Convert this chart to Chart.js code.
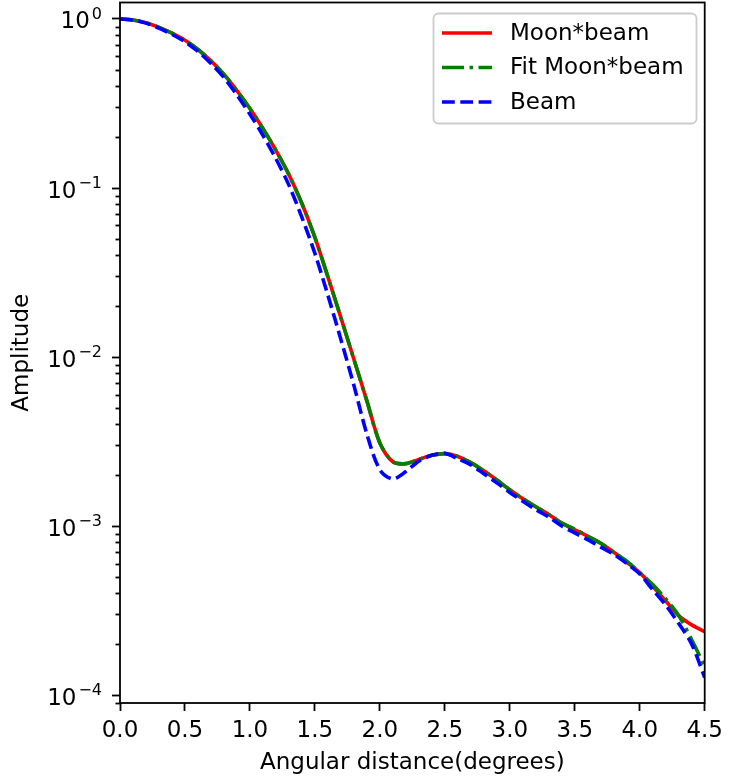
<!DOCTYPE html>
<html>
<head>
<meta charset="utf-8">
<script src="https://cdn.jsdelivr.net/npm/chart.js@4"></script>
<style>
  body { margin: 0; background: #fff; }
  canvas { display: block; }
</style>
</head>
<body>
<canvas id="beamChart" width="729" height="781"></canvas>
<script>
// angular distance (degrees)
const angles = [0.0, 0.1, 0.2, 0.3, 0.4, 0.5, 0.6, 0.7, 0.8, 0.9,
                1.0, 1.1, 1.2, 1.3, 1.4, 1.5, 1.6, 1.7, 1.8, 1.9,
                2.0, 2.1, 2.2, 2.3, 2.4, 2.5, 2.6, 2.7, 2.8, 2.9,
                3.0, 3.1, 3.2, 3.3, 3.4, 3.5, 3.6, 3.7, 3.8, 3.9,
                4.0, 4.1, 4.2, 4.3, 4.4, 4.5];

const moonBeam = [1.0, 0.987, 0.95, 0.893, 0.824, 0.748, 0.66, 0.565, 0.47, 0.377,
                  0.295, 0.225, 0.167, 0.12, 0.081, 0.051, 0.0298, 0.0171, 0.0097, 0.0055,
                  0.0031, 0.0024, 0.00234, 0.00248, 0.00262, 0.00268, 0.00258, 0.00237, 0.00212, 0.00187,
                  0.00164, 0.00145, 0.0013, 0.00117, 0.00104, 0.00095, 0.00087, 0.00079, 0.0007, 0.00061,
                  0.00053, 0.00044, 0.00036, 0.000295, 0.00026, 0.000237];

const fitMoonBeam = [1.0, 0.987, 0.95, 0.893, 0.824, 0.748, 0.66, 0.565, 0.47, 0.377,
                     0.295, 0.225, 0.167, 0.12, 0.081, 0.051, 0.0298, 0.0171, 0.0097, 0.0055,
                     0.0031, 0.0024, 0.00234, 0.00248, 0.00262, 0.00268, 0.00258, 0.00237, 0.00212, 0.00187,
                     0.00164, 0.00145, 0.0013, 0.00117, 0.00104, 0.00096, 0.00087, 0.00079, 0.00070, 0.00062,
                     0.00053, 0.00045, 0.00037, 0.000295, 0.000212, 0.000148];

const beam = [1.0, 0.985, 0.945, 0.883, 0.81, 0.733, 0.643, 0.545, 0.45, 0.355,
              0.273, 0.205, 0.149, 0.104, 0.067, 0.041, 0.0232, 0.0127, 0.0068, 0.0035,
              0.00215, 0.0019, 0.0021, 0.00242, 0.00262, 0.00269, 0.0025, 0.0023, 0.00204, 0.0018,
              0.00158, 0.0014, 0.00125, 0.00113, 0.001, 0.00091, 0.00083, 0.00075, 0.00068, 0.0006,
              0.00052, 0.00042, 0.00034, 0.000265, 0.0002, 0.000127];

const xTicks = [0, 0.5, 1.0, 1.5, 2.0, 2.5, 3.0, 3.5, 4.0, 4.5];
const yExponents = [0, -1, -2, -3, -4];

const FONT = 'DejaVu Sans';

function pts(values) {
    return angles.map((a, i) => ({ x: a, y: values[i] }));
}

// tick labels like 10^-2 with a real superscript, minor log ticks and the frame
const axesPlugin = {
    id: 'axesExtras',
    afterDraw(chart) {
        const ctx = chart.ctx;
        const area = chart.chartArea;
        const y = chart.scales.y;
        ctx.save();
        ctx.strokeStyle = '#000';
        ctx.lineWidth = 1.8;
        // minor ticks
        for (let k = -5; k <= 0; k++) {
            for (let m = 2; m <= 9; m++) {
                const v = m * Math.pow(10, k);
                if (v < y.min || v > y.max) continue;
                const py = Math.round(y.getPixelForValue(v)) + 0.5;
                ctx.beginPath();
                ctx.moveTo(area.left, py);
                ctx.lineTo(area.left - 4.5, py);
                ctx.stroke();
            }
        }
        // frame
        ctx.strokeRect(area.left, area.top, area.right - area.left, area.bottom - area.top);
        // y labels
        ctx.fillStyle = '#000';
        ctx.textBaseline = 'alphabetic';
        ctx.textAlign = 'left';
        const rightEdge = 102;
        yExponents.forEach(e => {
            const py = y.getPixelForValue(Math.pow(10, e));
            const expText = e === 0 ? '0' : '\u2212' + Math.abs(e);
            ctx.font = '16px "' + FONT + '"';
            const ew = ctx.measureText(expText).width;
            ctx.font = '23px "' + FONT + '"';
            const bw = ctx.measureText('10').width;
            const x0 = rightEdge - ew - bw - 2;
            ctx.fillText('10', x0, py + 9.5);
            ctx.font = '16px "' + FONT + '"';
            ctx.fillText(expText, x0 + bw + 2, py);
        });
        ctx.restore();
    }
};

// matplotlib-like legend box
const legendPlugin = {
    id: 'boxLegend',
    afterDraw(chart) {
        const ctx = chart.ctx;
        const bx = 433.5, by = 13.5, bw = 263, bh = 110, r = 5;
        ctx.save();
        ctx.beginPath();
        ctx.moveTo(bx + r, by);
        ctx.arcTo(bx + bw, by, bx + bw, by + bh, r);
        ctx.arcTo(bx + bw, by + bh, bx, by + bh, r);
        ctx.arcTo(bx, by + bh, bx, by, r);
        ctx.arcTo(bx, by, bx + bw, by, r);
        ctx.closePath();
        ctx.fillStyle = 'rgba(255,255,255,0.8)';
        ctx.fill();
        ctx.strokeStyle = '#cccccc';
        ctx.lineWidth = 1.8;
        ctx.stroke();
        ctx.font = '23px "' + FONT + '"';
        ctx.textBaseline = 'middle';
        ctx.fillStyle = '#000';
        chart.data.datasets.forEach((ds, i) => {
            const ry = 33 + i * 34.5;
            ctx.beginPath();
            ctx.setLineDash(ds.borderDash || []);
            ctx.strokeStyle = ds.borderColor;
            ctx.lineWidth = ds.borderWidth;
            ctx.lineCap = 'butt';
            ctx.moveTo(442, ry);
            ctx.lineTo(492, ry);
            ctx.stroke();
            ctx.setLineDash([]);
            ctx.fillText(ds.label, 510, ry + 1);
        });
        ctx.restore();
    }
};

const ctx = document.getElementById('beamChart').getContext('2d');
const beamChart = new Chart(ctx, {
    type: 'line',
    data: {
        datasets: [
            {
                label: 'Moon*beam',
                data: pts(moonBeam),
                borderColor: '#ff0000',
                borderWidth: 3.6,
                order: 3
            },
            {
                label: 'Fit Moon*beam',
                data: pts(fitMoonBeam),
                borderColor: '#008000',
                borderWidth: 3.6,
                borderDash: [22, 5.5, 3.5, 5.5],
                order: 2
            },
            {
                label: 'Beam',
                data: pts(beam),
                borderColor: '#0000ff',
                borderWidth: 3.6,
                borderDash: [12.8, 5.5],
                order: 1
            }
        ]
    },
    options: {
        responsive: false,
        animation: false,
        layout: { padding: { left: 0, right: 20, top: 2.5, bottom: 0 } },
        elements: {
            point: { radius: 0 },
            line: { tension: 0.3, borderCapStyle: 'butt', fill: false }
        },
        plugins: {
            legend: { display: false },
            tooltip: { enabled: false }
        },
        scales: {
            x: {
                type: 'linear',
                min: 0,
                max: 4.5,
                afterBuildTicks: scale => { scale.ticks = xTicks.map(v => ({ value: v })); },
                afterFit: scale => { scale.height = 78; },
                border: { display: false },
                grid: {
                    drawOnChartArea: false,
                    drawTicks: true,
                    tickLength: 8,
                    tickWidth: 1.8,
                    tickColor: '#000'
                },
                ticks: {
                    autoSkip: false,
                    maxRotation: 0,
                    padding: 6,
                    color: '#000',
                    font: { family: FONT, size: 23 },
                    callback: v => Number(v).toFixed(1)
                },
                title: {
                    display: true,
                    text: 'Angular distance(degrees)',
                    color: '#000',
                    font: { family: FONT, size: 23 },
                    padding: { top: 0, bottom: 4 }
                }
            },
            y: {
                type: 'logarithmic',
                min: 8.97e-5,
                max: 1.252,
                afterBuildTicks: scale => { scale.ticks = yExponents.map(e => ({ value: Math.pow(10, e), major: true })); },
                afterFit: scale => { scale.width = 120; },
                border: { display: false },
                grid: {
                    drawOnChartArea: false,
                    drawTicks: true,
                    tickLength: 8,
                    tickWidth: 1.8,
                    tickColor: '#000'
                },
                ticks: { display: false, autoSkip: false },
                title: {
                    display: true,
                    text: 'Amplitude',
                    color: '#000',
                    font: { family: FONT, size: 23 },
                    padding: { top: 8, bottom: 0 }
                }
            }
        }
    },
    plugins: [axesPlugin, legendPlugin]
});
</script>
</body>
</html>
